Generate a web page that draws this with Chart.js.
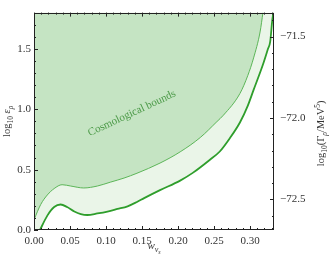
<!DOCTYPE html>
<html>
<head>
<meta charset="utf-8">
<script src="https://cdn.jsdelivr.net/npm/chart.js@4.4.1/dist/chart.umd.min.js"></script>
<style>
  html, body { margin: 0; padding: 0; background: #fff; }
  #wrap { width: 332px; height: 261px; }
</style>
</head>
<body>
<div id="wrap"><canvas id="grafico" width="332" height="261"></canvas></div>
<script>
// upper curve (thin line, edge of the cosmological bound region)
var upperX = [0, 0.0093, 0.0185, 0.028, 0.039, 0.051, 0.069, 0.088, 0.106, 0.125, 0.143, 0.175, 0.203, 0.231, 0.254, 0.263, 0.286, 0.297, 0.305, 0.314, 0.318];
var upperY = [0.085, 0.211, 0.29, 0.343, 0.375, 0.364, 0.348, 0.364, 0.396, 0.43, 0.47, 0.554, 0.647, 0.766, 0.897, 0.95, 1.13, 1.28, 1.425, 1.64, 1.8];
// lower curve (thick line)
var lowerX = [0, 0.0083, 0.0185, 0.028, 0.037, 0.046, 0.056, 0.065, 0.074, 0.088, 0.102, 0.116, 0.13, 0.143, 0.153, 0.175, 0.203, 0.221, 0.244, 0.258, 0.272, 0.286, 0.297, 0.305, 0.318, 0.325, 0.328, 0.331, 0.3325];
var lowerY = [-0.1, 0, 0.119, 0.19, 0.211, 0.19, 0.153, 0.132, 0.124, 0.137, 0.153, 0.174, 0.196, 0.232, 0.264, 0.33, 0.409, 0.475, 0.58, 0.65, 0.76, 0.89, 1.03, 1.16, 1.37, 1.5, 1.557, 1.74, 1.8];

var xMin = 0, xMax = 1 / 3;
var yMin = 0, yMax = 1.8;
var gMin = -72.688, gMax = -71.353;
var etiqueta = 'Cosmological bounds';
var etiquetaPos = [0.136, 0.966];

var serif = '"Liberation Serif", "DejaVu Serif", serif';
var colorTexto = '#333';

function puntos(xs, ys) {
    var out = [];
    for (var i = 0; i < xs.length; i++) out.push({x: xs[i], y: ys[i]});
    return out;
}
function esMayor(v, paso) {
    var r = v / paso;
    return Math.abs(r - Math.round(r)) < 1e-6;
}

// draws text pieces one after the other (subscripts, italics)
function textoRico(ctx, partes, x, y) {
    var total = 0;
    partes.forEach(function (p) {
        ctx.font = (p.it ? 'italic ' : '') + p.size + 'px ' + serif;
        p.w = ctx.measureText(p.t).width;
        total += p.w;
    });
    var cx = x - total / 2;
    ctx.textBaseline = 'alphabetic';
    ctx.textAlign = 'left';
    partes.forEach(function (p) {
        ctx.font = (p.it ? 'italic ' : '') + p.size + 'px ' + serif;
        ctx.fillText(p.t, cx, y + (p.dy || 0));
        cx += p.w;
    });
}

var extras = {
    id: 'extras',
    afterDraw: function (chart) {
        var ctx = chart.ctx;
        var a = chart.chartArea;
        var sx = chart.scales.x, sy = chart.scales.y, sg = chart.scales.y2;
        ctx.save();
        ctx.strokeStyle = '#222';
        ctx.lineWidth = 1;
        // inward ticks
        ctx.beginPath();
        sx.ticks.forEach(function (t) {
            var px = Math.round(sx.getPixelForValue(t.value)) + 0.5;
            var l = esMayor(t.value, 0.05) ? 4 : 2;
            ctx.moveTo(px, a.bottom); ctx.lineTo(px, a.bottom - l);
            ctx.moveTo(px, a.top); ctx.lineTo(px, a.top + l);
        });
        sy.ticks.forEach(function (t) {
            var py = Math.round(sy.getPixelForValue(t.value)) + 0.5;
            var l = esMayor(t.value, 0.5) ? 4 : 2;
            ctx.moveTo(a.left, py); ctx.lineTo(a.left + l, py);
        });
        sg.ticks.forEach(function (t) {
            var py = Math.round(sg.getPixelForValue(t.value)) + 0.5;
            var l = esMayor(t.value, 0.5) ? 4 : 2;
            ctx.moveTo(a.right, py); ctx.lineTo(a.right - l, py);
        });
        ctx.stroke();
        // frame
        ctx.strokeRect(Math.round(a.left) + 0.5, Math.round(a.top) + 0.5,
            Math.round(a.right - a.left) - 1, Math.round(a.bottom - a.top) - 1);

        // label inside the plot
        ctx.fillStyle = '#4c9a48';
        ctx.font = '11px ' + serif;
        ctx.textAlign = 'center';
        ctx.textBaseline = 'middle';
        ctx.translate(sx.getPixelForValue(etiquetaPos[0]), sy.getPixelForValue(etiquetaPos[1]));
        ctx.rotate(-25 * Math.PI / 180);
        ctx.fillText(etiqueta, 0, 0);
        ctx.restore();

        // axis titles
        ctx.save();
        ctx.fillStyle = colorTexto;
        textoRico(ctx, [
            {t: 'w', size: 11, it: true},
            {t: 'ν', size: 8, it: true, dy: 2.5},
            {t: 's', size: 6, it: true, dy: 4.5}
        ], (a.left + a.right) / 2, 249);
        ctx.restore();

        ctx.save();
        ctx.fillStyle = colorTexto;
        ctx.translate(10, (a.top + a.bottom) / 2);
        ctx.rotate(-Math.PI / 2);
        textoRico(ctx, [
            {t: 'log', size: 10.5},
            {t: '10', size: 7.5, dy: 2.5},
            {t: ' ε', size: 10.5, it: true},
            {t: 'ρ', size: 7.5, it: true, dy: 2.5}
        ], 0, 0);
        ctx.restore();

        ctx.save();
        ctx.fillStyle = colorTexto;
        ctx.translate(324, (a.top + a.bottom) / 2 + 12);
        ctx.rotate(-Math.PI / 2);
        textoRico(ctx, [
            {t: 'log', size: 10.5},
            {t: '10', size: 7.5, dy: 2.5},
            {t: '(Γ', size: 10.5},
            {t: 'ρ', size: 7.5, it: true, dy: 2.5},
            {t: '/MeV', size: 10.5},
            {t: '5', size: 7.5, dy: -4},
            {t: ')', size: 10.5}
        ], 0, 0);
        ctx.restore();
    }
};

var fuenteTicks = {family: serif, size: 11};

new Chart(document.getElementById('grafico'), {
    type: 'line',
    data: {
        datasets: [
            {
                label: 'upper',
                data: puntos(upperX, upperY),
                borderColor: '#5cb558',
                borderWidth: 1,
                backgroundColor: '#c5e4c3',
                fill: 'end',
                pointRadius: 0,
                cubicInterpolationMode: 'monotone',
                yAxisID: 'y'
            },
            {
                label: 'lower',
                data: puntos(lowerX, lowerY),
                borderColor: '#2f9e2c',
                borderWidth: 1.8,
                backgroundColor: '#eaf5e8',
                fill: 'end',
                pointRadius: 0,
                cubicInterpolationMode: 'monotone',
                yAxisID: 'y'
            }
        ]
    },
    options: {
        responsive: false,
        animation: false,
        devicePixelRatio: 1,
        layout: {padding: {top: 3, left: 0, right: 0, bottom: 0}},
        plugins: {legend: {display: false}, tooltip: {enabled: false}},
        scales: {
            x: {
                type: 'linear',
                min: xMin, max: xMax,
                grid: {display: false, drawTicks: false},
                border: {display: false},
                ticks: {
                    stepSize: 0.01, autoSkip: false, includeBounds: false, maxRotation: 0,
                    padding: 5, font: fuenteTicks, color: colorTexto,
                    callback: function (v) { return esMayor(v, 0.05) ? v.toFixed(2) : ''; }
                },
                afterFit: function (s) { s.height = 31; }
            },
            y: {
                type: 'linear', position: 'left',
                min: yMin, max: yMax,
                grid: {display: false, drawTicks: false},
                border: {display: false},
                ticks: {
                    stepSize: 0.1, autoSkip: false, includeBounds: false,
                    padding: 3, font: fuenteTicks, color: colorTexto,
                    callback: function (v) { return esMayor(v, 0.5) ? v.toFixed(1) : ''; }
                },
                afterFit: function (s) { s.width = 34; }
            },
            y2: {
                type: 'linear', position: 'right',
                min: gMin, max: gMax,
                grid: {display: false, drawTicks: false},
                border: {display: false},
                ticks: {
                    stepSize: 0.1, autoSkip: false, includeBounds: false,
                    padding: 6, font: fuenteTicks, color: colorTexto,
                    callback: function (v) { return esMayor(v, 0.5) ? '\u2212' + Math.abs(v).toFixed(1) : ''; }
                },
                afterFit: function (s) { s.width = 58; }
            }
        }
    },
    plugins: [extras]
});
</script>
</body>
</html>
